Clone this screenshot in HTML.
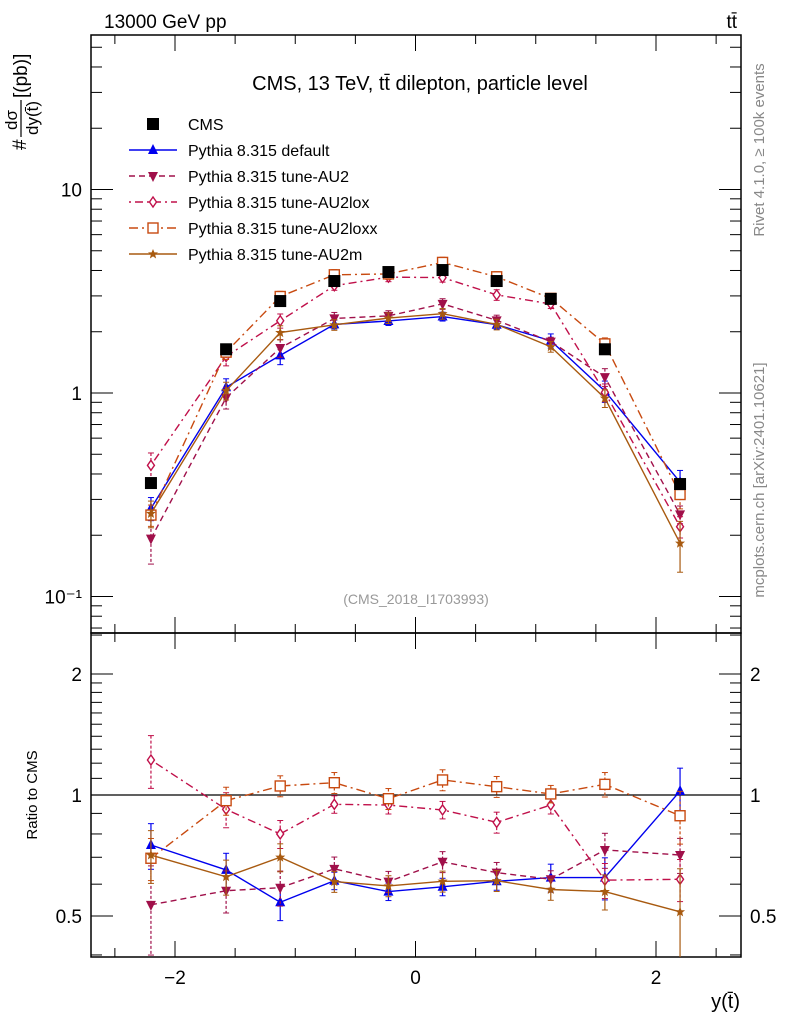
<!DOCTYPE html>
<html><head><meta charset="utf-8"><style>
body{margin:0;background:#fff}
svg{display:block;font-family:"Liberation Sans",sans-serif}
</style></head><body>
<svg id="c" width="786" height="1024" xmlns="http://www.w3.org/2000/svg"></svg>
<script>
const xCenters=[-2.2,-1.575,-1.125,-0.675,-0.225,0.225,0.675,1.125,1.575,2.2];
const cmsValues=[0.361,1.64,2.83,3.55,3.93,4.02,3.55,2.90,1.64,0.357];
const ratioDefault=[0.751,0.651,0.541,0.612,0.575,0.591,0.610,0.623,0.623,1.023];
const ratioAU2=[0.533,0.578,0.588,0.655,0.609,0.682,0.641,0.617,0.730,0.709];
const ratioAU2lox=[1.222,0.921,0.80,0.948,0.944,0.918,0.855,0.944,0.614,0.617];
const ratioAU2loxx=[0.696,0.968,1.053,1.073,0.979,1.090,1.049,1.006,1.063,0.888];
const ratioAU2m=[0.709,0.626,0.700,0.609,0.594,0.610,0.612,0.582,0.575,0.512];
const errDefault=[0.13,0.1,0.1,0.05,0.05,0.05,0.05,0.08,0.12,0.14];
const errAU2=[0.25,0.12,0.1,0.07,0.06,0.06,0.06,0.05,0.1,0.1];
const errAU2lox=[0.15,0.1,0.08,0.05,0.05,0.05,0.06,0.05,0.1,0.12];
const errAU2loxx=[0.12,0.08,0.06,0.06,0.06,0.06,0.06,0.05,0.07,0.15];
const errAU2m=[0.15,0.1,0.08,0.06,0.06,0.06,0.06,0.06,0.1,0.28];
const xTicks=[-2,0,2];
const mainTickLabels=["10⁻¹","1","10"];
const ratioTicks=[0.5,1,2];

const NS="http://www.w3.org/2000/svg";
const svg=document.getElementById('c');
function el(t,a,p){const e=document.createElementNS(NS,t);for(const k in a)e.setAttribute(k,a[k]);(p||svg).appendChild(e);return e;}
const L=91,R=741,T=35,MB=633,RB=957;
const xs=v=>415.5+v*120.25;
const ys=v=>393-Math.log10(v)*203.5;
const yr=v=>795-Math.log2(v)*121;

const defs=el('defs',{});
const c1=el('clipPath',{id:'cm'},defs);el('rect',{x:L,y:T,width:R-L,height:MB-T},c1);
const c2=el('clipPath',{id:'cr'},defs);el('rect',{x:L,y:MB,width:R-L,height:RB-MB},c2);

const f1=el('rect',{x:L,y:T,width:R-L,height:MB-T,fill:'none',stroke:'#000','stroke-width':1.5});

const f2=el('rect',{x:L,y:MB,width:R-L,height:RB-MB,fill:'none',stroke:'#000','stroke-width':1.5});


for(let v=-2.5;v<=2.51;v+=0.5){
  const big=Math.abs(v%2)<1e-6;const len=big?16:9;const x=xs(v);
  for(const [y0,d] of [[MB,-1],[T,1],[RB,-1]]){el('line',{x1:x,x2:x,y1:y0,y2:y0+d*len,stroke:'#000'});}
  el('line',{x1:x,x2:x,y1:MB,y2:MB+len,stroke:'#000'});
}
xTicks.forEach(v=>{const t=el('text',{x:xs(v),y:984,'font-size':19,'text-anchor':'middle'});t.textContent=(v<0?'−':'')+Math.abs(v);
});

for(let d=-2;d<=1;d++){for(let m=1;m<=9;m++){const v=m*Math.pow(10,d);const y=ys(v);if(y<T||y>MB)continue;const len=m==1?22:11;
 el('line',{x1:L,x2:L+len,y1:y,y2:y,stroke:'#000'});el('line',{x1:R,x2:R-len,y1:y,y2:y,stroke:'#000'});}}
[0.1,1,10].forEach((v,i)=>{const t=el('text',{x:82,y:ys(v)+7,'font-size':19,'text-anchor':'end'});t.textContent=mainTickLabels[i];
});

const rt=[0.4,0.5,0.6,0.7,0.8,0.9,1,1.1,1.2,1.3,1.4,1.5,1.6,1.7,1.8,1.9,2,2.5];
rt.forEach(v=>{const y=yr(v);if(y<MB||y>RB)return;const len=(v==0.5||v==1||v==2)?22:11;
 el('line',{x1:L,x2:L+len,y1:y,y2:y,stroke:'#000'});el('line',{x1:R,x2:R-len,y1:y,y2:y,stroke:'#000'});});
ratioTicks.forEach(v=>{const t=el('text',{x:82,y:yr(v)+7,'font-size':19,'text-anchor':'end'});t.textContent=v;

const t2=el('text',{x:750,y:yr(v)+7,'font-size':19});t2.textContent=v;
});
el('line',{x1:L,x2:R,y1:yr(1),y2:yr(1),stroke:'#000','stroke-width':1.3});

function marker(g,type,x,y,c){
 if(type=='sq')el('rect',{x:x-6,y:y-6,width:12,height:12,fill:'#000'},g);
 if(type=='up')el('polygon',{points:`${x},${y-6} ${x-5},${y+4} ${x+5},${y+4}`,fill:c},g);
 if(type=='down')el('polygon',{points:`${x},${y+6} ${x-5},${y-4} ${x+5},${y-4}`,fill:c},g);
 if(type=='dia')el('polygon',{points:`${x},${y-5} ${x-3.5},${y} ${x},${y+5} ${x+3.5},${y}`,fill:'#fff',stroke:c,'stroke-width':1.4},g);
 if(type=='osq')el('rect',{x:x-5,y:y-5,width:10,height:10,fill:'#fff',stroke:c,'stroke-width':1.4},g);
 if(type=='star')el('polygon',{points:`${x},${y-5} ${x+1.4},${y-1.6} ${x+5},${y-1.6} ${x+2.2},${y+0.8} ${x+3.1},${y+4.5} ${x},${y+2.4} ${x-3.1},${y+4.5} ${x-2.2},${y+0.8} ${x-5},${y-1.6} ${x-1.4},${y-1.6}`,fill:c},g);
}
const series=[
 {name:'default',r:ratioDefault,e:errDefault,c:'#0000ee',dash:'',m:'up',label:'Pythia 8.315 default'},
 {name:'au2',r:ratioAU2,e:errAU2,c:'#a0104a',dash:'6,4',m:'down',label:'Pythia 8.315 tune-AU2'},
 {name:'au2lox',r:ratioAU2lox,e:errAU2lox,c:'#c0104a',dash:'2,4,8,4',m:'dia',label:'Pythia 8.315 tune-AU2lox'},
 {name:'au2loxx',r:ratioAU2loxx,e:errAU2loxx,c:'#c84a10',dash:'9,4,2,4',m:'osq',label:'Pythia 8.315 tune-AU2loxx'},
 {name:'au2m',r:ratioAU2m,e:errAU2m,c:'#a85a10',dash:'',m:'star',label:'Pythia 8.315 tune-AU2m'}
];
series.forEach(s=>{
 const g=el('g',{});
 const gm=el('g',{'clip-path':'url(#cm)'},g),gr=el('g',{'clip-path':'url(#cr)'},g);
 const pm=[],pr=[];
 xCenters.forEach((xv,i)=>{const v=s.r[i]*cmsValues[i];pm.push(xs(xv)+','+ys(v));pr.push(xs(xv)+','+yr(s.r[i]));});
 el('polyline',{points:pm.join(' '),fill:'none',stroke:s.c,'stroke-width':1.4,'stroke-dasharray':s.dash},gm);
 el('polyline',{points:pr.join(' '),fill:'none',stroke:s.c,'stroke-width':1.4,'stroke-dasharray':s.dash},gr);
 xCenters.forEach((xv,i)=>{const x=xs(xv);const v=s.r[i]*cmsValues[i];const e=s.e[i];
  [[ys,v,gm],[yr,s.r[i],gr]].forEach(([f,val,gg])=>{const y1=f(val*(1+e)),y2=f(val*(1-e));
   el('line',{x1:x,x2:x,y1:y1,y2:y2,stroke:s.c,'stroke-width':1.2,'stroke-dasharray':s.dash?'3,2':''},gg);
   el('line',{x1:x-3,x2:x+3,y1:y1,y2:y1,stroke:s.c},gg);el('line',{x1:x-3,x2:x+3,y1:y2,y2:y2,stroke:s.c},gg);
   marker(gg,s.m,x,f(val),s.c);});
 });
});
const gc=el('g',{});
xCenters.forEach((xv,i)=>{marker(gc,'sq',xs(xv),ys(cmsValues[i]),'#000');});

const lg=el('g',{});
marker(lg,'sq',153,124,'#000');
let t=el('text',{x:188,y:130,'font-size':16},lg);t.textContent='CMS';
series.forEach((s,i)=>{const y=150+i*26;
 const le=el('g',{},lg);
 el('line',{x1:129,x2:177,y1:y,y2:y,stroke:s.c,'stroke-width':1.4,'stroke-dasharray':s.dash},le);
 marker(le,s.m,153,y,s.c);
 const tt=el('text',{x:188,y:y+6,'font-size':16},le);tt.textContent=s.label;});

function txt(x,y,s,a,name,p){const e=el('text',Object.assign({x:x,y:y},a),p);e.textContent=s;return e;}
txt(104,28,'13000 GeV pp',{'font-size':19},'energy-label');
txt(737,28,'tt̄',{'font-size':19,'text-anchor':'end'},'process-label');
txt(420,90,'CMS, 13 TeV, tt̄ dilepton, particle level',{'font-size':20,'text-anchor':'middle'},'plot-title');
txt(416,604,'(CMS_2018_I1703993)',{'font-size':14,'text-anchor':'middle',fill:'#999'},'analysis-id');
txt(740,1008,'y(t̄)',{'font-size':20,'text-anchor':'end'},'x-axis-title');
txt(0,0,'Ratio to CMS',{'font-size':15,'text-anchor':'middle',transform:'translate(37,795) rotate(-90)'},'ratio-axis-title');
const yl=el('g',{transform:'translate(0,150) rotate(-90)'});
txt(0,26,'#',{'font-size':19},'y-title-hash',yl);
txt(30,17,'dσ',{'font-size':17,'text-anchor':'middle'},'y-title-num',yl);
el('line',{x1:13,x2:50,y1:21,y2:21,stroke:'#000','stroke-width':1.2},yl);
txt(32,38,'dy(t̄)',{'font-size':17,'text-anchor':'middle'},'y-title-den',yl);
txt(52,27,'[(pb)]',{'font-size':19},'y-title-unit',yl);
txt(0,0,'Rivet 4.1.0, ≥ 100k events',{'font-size':15,'text-anchor':'middle',fill:'#888',transform:'translate(764,150) rotate(-90)'},'rivet-label');
txt(0,0,'mcplots.cern.ch [arXiv:2401.10621]',{'font-size':15,'text-anchor':'middle',fill:'#888',transform:'translate(764,480) rotate(-90)'},'mcplots-label');
</script>
</body></html>
